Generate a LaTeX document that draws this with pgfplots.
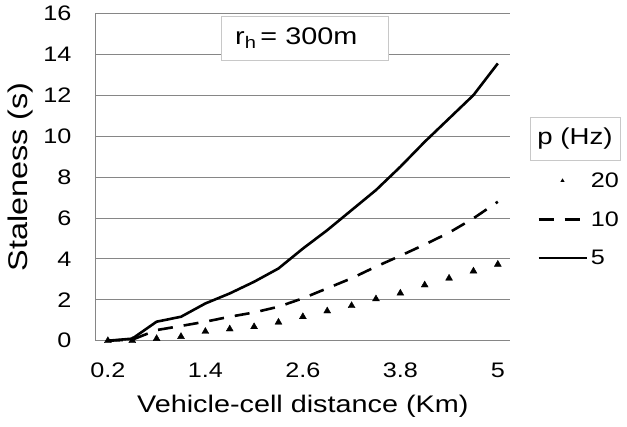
\documentclass[border=0pt]{standalone}
\usepackage{fontspec}
\setmainfont[FakeStretch=1.2]{Liberation Sans}
\usepackage{pgfplots}
\pgfplotsset{compat=1.18}
\definecolor{gridgray}{RGB}{134,134,134}
\definecolor{boxgray}{RGB}{200,200,200}
\pgfplotsset{
  lineleg/.style={legend image code/.code={\draw[##1] (0bp,0bp) -- (48bp,0bp);}},
  markleg/.style={legend image code/.code={\draw[##1, mark size=2bp] plot coordinates {(24bp,0bp)};}},
}
\begin{document}
\begin{tikzpicture}
\useasboundingbox (-95.7bp,-86.3bp) rectangle (531.3bp,340.7bp);
\begin{axis}[
  at={(0,0)}, anchor=south west,
  width=414.3bp, height=327.4bp, scale only axis,
  xmin=0.05, xmax=5.15, ymin=0, ymax=16,
  xtick={0.2,1.4,2.6,3.8,5}, xticklabels={0.2,1.4,2.6,3.8,5},
  ytick={0,2,4,6,8,10,12,14,16},
  axis x line=bottom, axis y line=left,
  axis line style={-, draw=gridgray, line width=0.8bp},
  ymajorgrids, grid style={draw=gridgray, line width=0.8bp},
  major tick length=0pt,
  clip=false,
  /pgf/number format/assume math mode=true,
  tick label style={font=\fontsize{21bp}{25bp}\selectfont},
  yticklabel style={anchor=east, inner sep=0pt, xshift=-24bp},
  xticklabel style={anchor=north, inner sep=0pt, yshift=-22bp},
  xlabel={Vehicle-cell distance (Km)},
  ylabel={Staleness (s)},
  xlabel style={at={(rel axis cs:0.5,0)}, anchor=north, inner sep=0pt, yshift=-54bp, font=\fontsize{24bp}{28bp}\selectfont},
  ylabel style={at={(rel axis cs:-0.2117,0.5)}, anchor=north, inner sep=0pt, font=\fontsize{27bp}{31bp}\selectfont},
  legend cell align=left,
  legend style={draw=none, fill=none, at={(rel axis cs:1.0652,0.5137)}, anchor=north west,
    inner sep=0pt, row sep=22.5bp, column sep=3bp, nodes={inner sep=0pt},
    font=\fontsize{21bp}{25bp}\selectfont},
]
\addplot[only marks, mark=triangle*, mark size=4bp, black, markleg]
  coordinates {(0.2,0) (0.5,0) (0.8,0.1) (1.1,0.2) (1.4,0.45) (1.7,0.57) (2.0,0.68) (2.3,0.9) (2.6,1.17) (2.9,1.45) (3.2,1.71) (3.5,2.04) (3.8,2.32) (4.1,2.72) (4.4,3.05) (4.7,3.4) (5.0,3.73)};
\addlegendentry{20}
\addplot[black, line width=2.6bp, dash pattern=on 15bp off 11bp, lineleg]
  coordinates {(0.2,0) (0.5,0.05) (0.8,0.52) (1.1,0.72) (1.4,0.93) (1.7,1.17) (2.0,1.38) (2.3,1.66) (2.6,2.07) (2.9,2.56) (3.2,3.05) (3.5,3.62) (3.8,4.15) (4.1,4.7) (4.4,5.28) (4.7,5.98) (5.0,6.79)};
\addlegendentry{10}
\addplot[black, line width=2.6bp, lineleg]
  coordinates {(0.2,0) (0.5,0.1) (0.8,0.93) (1.1,1.17) (1.4,1.82) (1.7,2.31) (2.0,2.88) (2.3,3.53) (2.6,4.5) (2.9,5.4) (3.2,6.38) (3.5,7.36) (3.8,8.5) (4.1,9.72) (4.4,10.86) (4.7,12.0) (5.0,13.55)};
\addlegendentry{5}
\node[draw=boxgray, fill=white, minimum width=167bp, minimum height=44bp, inner sep=0pt, line width=0.8bp]
  at (rel axis cs:0.504,0.9246) {};
\node[anchor=west, inner sep=0pt, font=\fontsize{24bp}{28bp}\selectfont]
  at (rel axis cs:0.3362,0.9246) {r\textsubscript{h}\,= 300m};
\node[draw=boxgray, fill=white, minimum width=90bp, minimum height=43bp, inner sep=0pt, line width=0.8bp,
  font=\fontsize{23bp}{27bp}\selectfont]
  at (rel axis cs:1.157,0.616) {p (Hz)};
\end{axis}
\end{tikzpicture}
\end{document}
